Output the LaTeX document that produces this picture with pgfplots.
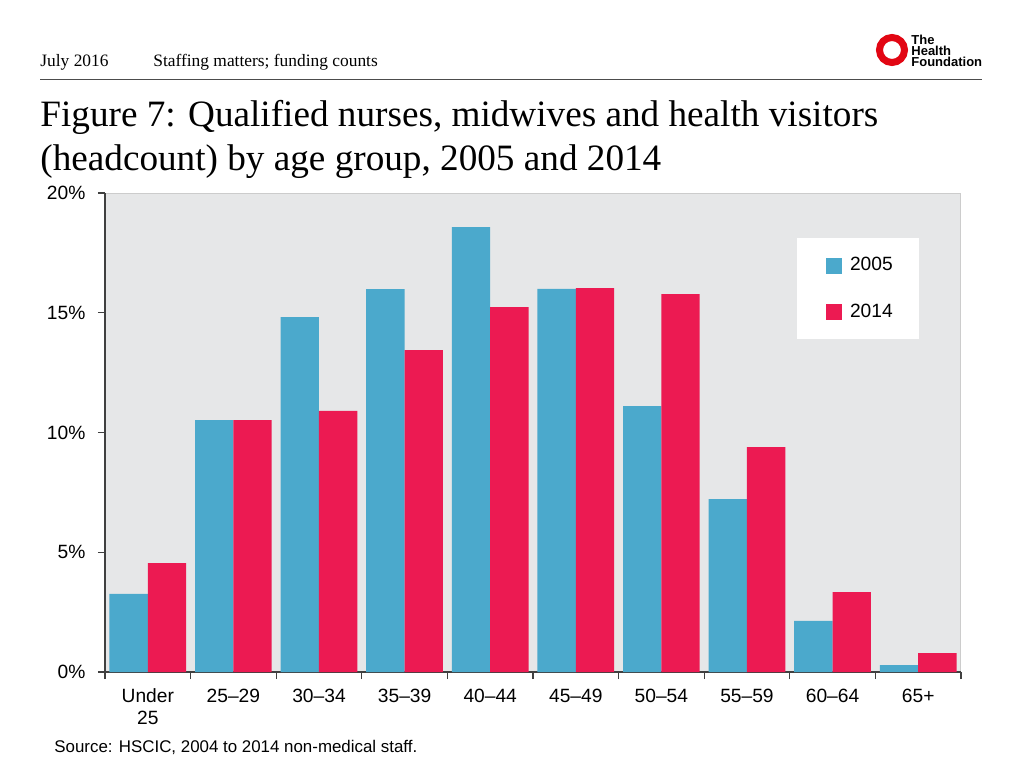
\documentclass[border=0pt]{standalone}
\usepackage{pgfplots}
\pgfplotsset{compat=1.18}
\usepackage{fontspec}
\setmainfont{Liberation Serif}
\newfontfamily\sans{Liberation Sans}
\definecolor{cblue}{RGB}{75,169,204}
\definecolor{cred}{RGB}{236,26,82}
\definecolor{bggray}{RGB}{230,231,232}
\definecolor{logored}{RGB}{226,6,19}
\pgfplotstableread{
x y2005 y2014
0 3.26 4.55
1 10.52 10.52
2 14.82 10.90
3 15.99 13.44
4 18.58 15.24
5 16.00 16.03
6 11.10 15.78
7 7.22 9.39
8 2.13 3.34
9 0.29 0.79
}\datatable
\begin{document}
\begin{tikzpicture}
\useasboundingbox (0,0) rectangle (512pt,384pt);
\fill[white] (0,0) rectangle (512pt,384pt);
\begin{axis}[
  at={(52.5pt,48pt)}, anchor=south west,
  scale only axis, width=428pt, height=239.5pt,
  xmin=-0.5, xmax=9.5, ymin=0, ymax=20,
  axis x line*=bottom, axis y line*=left,
  axis line style={draw=black!75, line width=0.6pt},
  axis background/.style={fill=bggray, draw=black!20, line width=0.5pt},
  ybar, bar width=0.448,
  tick align=outside,
  major tick length=3.5pt,
  tick style={draw=black!75, line width=0.6pt},
  ytick={0,5,10,15,20},
  yticklabels={0\%,5\%,10\%,15\%,20\%},
  yticklabel style={font=\sans\fontsize{9.6}{11}\selectfont, xshift=-2.8pt},
  xtick={-0.5,0.5,...,9.5},
  xticklabels={,,,,,,,,,,},
  extra x ticks={0,1,2,3,4,5,6,7,8,9},
  extra x tick labels={{Under\\25},25–29,30–34,35–39,40–44,45–49,50–54,55–59,60–64,65+},
  extra x tick style={major tick length=0pt},
  xticklabel style={font=\sans\fontsize{9.6}{11}\selectfont, align=center, anchor=north, yshift=-5pt},
  legend style={at={(0.808,0.906)}, anchor=north west, draw=none, fill=white,
    font=\sans\fontsize{9.6}{11}\selectfont, inner xsep=11pt, inner ysep=7.5pt,
    row sep=11pt},
  legend cell align=left,
]
\addplot[fill=cblue, draw=none, bar shift=-0.224,
  legend image code/.code={\path (-3.5pt,0) (10pt,0); \fill[cblue] (0pt,-4pt) rectangle (8pt,4pt);}]
  table[x=x, y=y2005] {\datatable};
\addlegendentry{2005}
\addplot[fill=cred, draw=none, bar shift=0.224,
  legend image code/.code={\path (-3.5pt,0) (10pt,0); \fill[cred] (0pt,-4pt) rectangle (8pt,4pt);}]
  table[x=x, y=y2014] {\datatable};
\addlegendentry{2014}
\end{axis}
\begin{scope}[x=0.5pt,y=-0.5pt,yshift=384pt]
 \node[anchor=base west, inner sep=0, font=\fontsize{8.7}{10}\selectfont] at (40,66) {July 2016};
 \node[anchor=base west, inner sep=0, font=\fontsize{8.7}{10}\selectfont] at (153,66) {Staffing matters; funding counts};
 \draw[black!70, line width=0.5pt] (40,80) -- (982,80);
 \draw[logored, line width=3.5pt] (892,50) circle[radius=12.5];
 \node[anchor=base west, inner sep=0, font=\sans\bfseries\fontsize{6.5}{7}\selectfont] at (911,44) {The};
 \node[anchor=base west, inner sep=0, font=\sans\bfseries\fontsize{6.5}{7}\selectfont] at (911,55.5) {Health};
 \node[anchor=base west, inner sep=0, font=\sans\bfseries\fontsize{6.5}{7}\selectfont] at (911,67) {Foundation};
 \node[anchor=base west, inner sep=0, font=\fontsize{18.6}{22}\selectfont] at (40,127) {Figure 7: Qualified nurses, midwives and health visitors};
 \node[anchor=base west, inner sep=0, font=\fontsize{18.6}{22}\selectfont] at (40,170) {(headcount) by age group, 2005 and 2014};
 \node[anchor=base west, inner sep=0, font=\sans\fontsize{8.45}{10}\selectfont] at (54,752) {Source: HSCIC, 2004 to 2014 non-medical staff.};
\end{scope}
\end{tikzpicture}
\end{document}
